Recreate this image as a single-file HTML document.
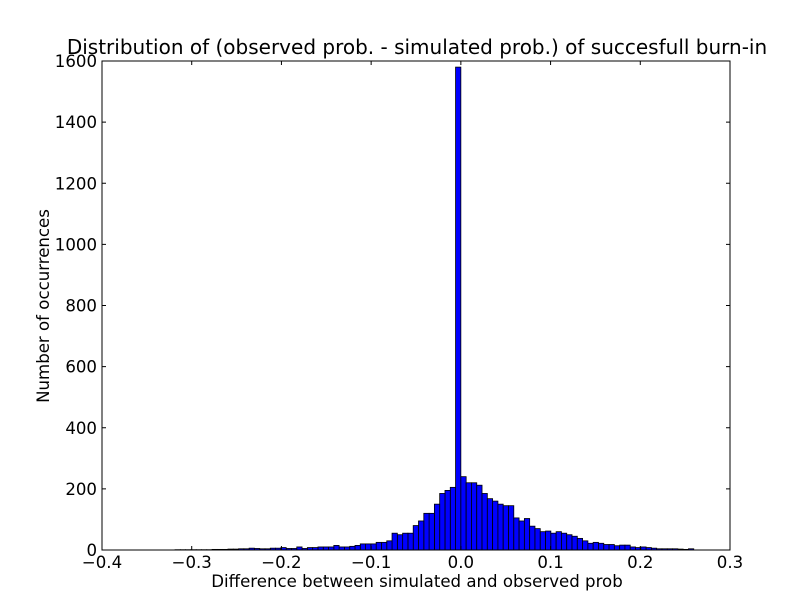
<!DOCTYPE html>
<html><head><meta charset="utf-8"><style>
body{margin:0;background:#fff;font-family:"DejaVu Sans",sans-serif}
svg text{font-family:"DejaVu Sans","Liberation Sans",sans-serif;fill:#000}
</style></head><body>
<svg id="chart" width="812" height="612" xmlns="http://www.w3.org/2000/svg">
<rect width="812" height="612" fill="#fff"/>
<g id="bars"></g>
<g id="axes"></g>
<text x="417" y="54" font-size="20" text-anchor="middle">Distribution of (observed prob. - simulated prob.) of succesfull burn-in</text>
<text x="417" y="587" font-size="16.6" text-anchor="middle">Difference between simulated and observed prob</text>
<text x="49" y="306" font-size="16.6" text-anchor="middle" transform="rotate(-90 49 306)">Number of occurrences</text>
</svg>
<script>
const binWidth = 0.0059;
const leftCounts = [1580,205,195,185,150,120,120,95,80,55,55,50,55,30,25,25,20,20,20,15,12,10,10,15,10,10,10,8,8,5,10,5,5,8,6,6,4,4,5,6,4,4,3,3,2,2,2,1,1,1,1,1,1,1];
const rightCounts = [240,220,220,212,185,168,160,150,145,145,105,95,103,78,70,60,62,55,60,55,50,45,38,30,22,25,22,18,18,14,16,16,10,8,10,8,6,4,4,4,4,3,2,4];
const xTicks = [-0.4,-0.3,-0.2,-0.1,0.0,0.1,0.2,0.3];
const xTickLabels = ["−0.4","−0.3","−0.2","−0.1","0.0","0.1","0.2","0.3"];
const yTicks = [0,200,400,600,800,1000,1200,1400,1600];

const X0=102,X1=730,Y0=550,Y1=61;
const xs=v=>X0+(v+0.4)/0.7*(X1-X0);
const ys=v=>Y0-v/1600*(Y0-Y1);
const NS="http://www.w3.org/2000/svg";
const bars=document.getElementById('bars'), axes=document.getElementById('axes');
function mk(t,a,p){const e=document.createElementNS(NS,t);for(const k in a)e.setAttribute(k,a[k]);p.appendChild(e);return e;}
function bar(lo,c){
  const r=mk('rect',{x:xs(lo),y:ys(c),width:xs(lo+binWidth)-xs(lo),height:Y0-ys(c),fill:'#0000ff',stroke:'#000','stroke-width':0.8},bars);
  
  
}
leftCounts.forEach((c,i)=>bar(-(i+1)*binWidth,c));
rightCounts.forEach((c,i)=>bar(i*binWidth,c));
const frame=mk('rect',{x:X0,y:Y1,width:X1-X0,height:Y0-Y1,fill:'none',stroke:'#000','stroke-width':1},axes);


xTicks.forEach((v,i)=>{
  const x=xs(v);
  mk('line',{x1:x,x2:x,y1:Y0,y2:Y0-4,stroke:'#000'},axes);
  mk('line',{x1:x,x2:x,y1:Y1,y2:Y1+4,stroke:'#000'},axes);
  const t=mk('text',{x:x,y:Y0+18,'font-size':16.6,'text-anchor':'middle'},axes);
  t.textContent=xTickLabels[i];
  
  
});
yTicks.forEach(v=>{
  const y=ys(v);
  mk('line',{x1:X0,x2:X0+4,y1:y,y2:y,stroke:'#000'},axes);
  mk('line',{x1:X1,x2:X1-4,y1:y,y2:y,stroke:'#000'},axes);
  const t=mk('text',{x:X0-5,y:y+6,'font-size':16.6,'text-anchor':'end'},axes);
  t.textContent=v;
  
  
});
</script>
</body></html>
